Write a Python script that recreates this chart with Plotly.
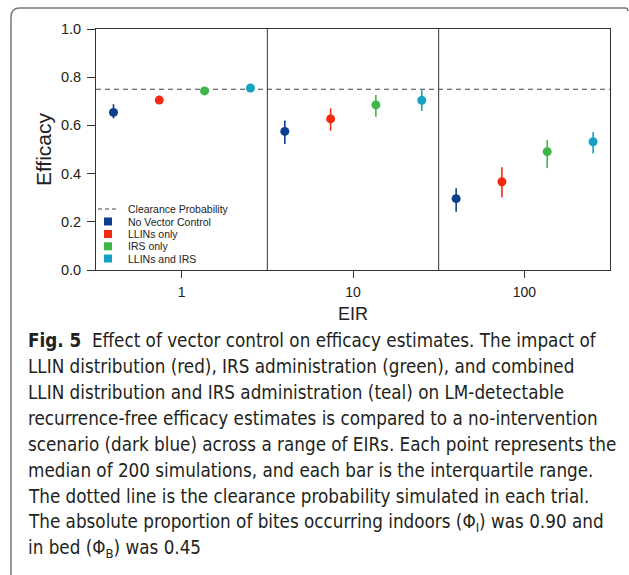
import plotly.graph_objects as go

# ---------------- data ----------------
eir_groups = [1, 10, 100]
series_names = ["No Vector Control", "LLINs only", "IRS only", "LLINs and IRS"]
series_colors = ["#0b3f8c", "#f22a12", "#3db848", "#17a2c3"]

# plotted x positions (dodged within each EIR group on the log axis)
nvc_x = [0.40, 4.0, 40.0]
llin_x = [0.74, 7.4, 74.0]
irs_x = [1.36, 13.6, 136.0]
both_x = [2.52, 25.2, 252.0]

# medians and interquartile ranges
nvc_med = [0.654, 0.575, 0.296]
nvc_q1 = [0.629, 0.523, 0.242]
nvc_q3 = [0.688, 0.620, 0.339]

llin_med = [0.705, 0.627, 0.366]
llin_q1 = [0.692, 0.578, 0.302]
llin_q3 = [0.718, 0.671, 0.426]

irs_med = [0.743, 0.685, 0.491]
irs_q1 = [0.730, 0.636, 0.423]
irs_q3 = [0.757, 0.726, 0.539]

both_med = [0.755, 0.704, 0.532]
both_q1 = [0.745, 0.660, 0.483]
both_q3 = [0.766, 0.747, 0.573]

clearance_prob = 0.75
x_range_vals = [0.3162, 316.2]
divider_vals = [3.162, 31.62]

y_ticks = [0.0, 0.2, 0.4, 0.6, 0.8, 1.0]

caption_lines = [
    "<b>Fig. 5</b>  Effect of vector control on efficacy estimates. The impact of",
    "LLIN distribution (red), IRS administration (green), and combined",
    "LLIN distribution and IRS administration (teal) on LM-detectable",
    "recurrence-free efficacy estimates is compared to a no-intervention",
    "scenario (dark blue) across a range of EIRs. Each point represents the",
    "median of 200 simulations, and each bar is the interquartile range.",
    "The dotted line is the clearance probability simulated in each trial.",
    "The absolute proportion of bites occurring indoors (Φ<sub>I</sub>) was 0.90 and",
    "in bed (Φ<sub>B</sub>) was 0.45",
]

# ---------------- layout helpers ----------------
W, H = 629, 575
L, R, T, B = 96, 610, 29, 270


def px(x):
    return (x - L) / (R - L)


def py(y):
    return (B - y) / (B - T)


AX_FONT = "Liberation Sans, Arial, sans-serif"
CAP_FONT = "Liberation Sans Narrow, Arial Narrow, DejaVu Sans Condensed, sans-serif"

fig = go.Figure()

# clearance probability dashed line
fig.add_trace(go.Scatter(
    x=x_range_vals, y=[clearance_prob, clearance_prob], mode="lines",
    line=dict(color="#444444", width=1.2, dash="5px,4px"),
    showlegend=False, hoverinfo="skip"))

all_series = [
    (nvc_x, nvc_med, nvc_q1, nvc_q3),
    (llin_x, llin_med, llin_q1, llin_q3),
    (irs_x, irs_med, irs_q1, irs_q3),
    (both_x, both_med, both_q1, both_q3),
]
for (xs, med, q1, q3), name, col in zip(all_series, series_names, series_colors):
    fig.add_trace(go.Scatter(
        x=xs, y=med, mode="markers", name=name,
        marker=dict(color=col, size=9, line=dict(width=0)),
        error_y=dict(type="data", symmetric=False,
                     array=[b - m for m, b in zip(med, q3)],
                     arrayminus=[m - a for m, a in zip(med, q1)],
                     width=0, thickness=1.6, color=col),
        showlegend=False))

shapes = []
# panel dividers (data coordinates on the log axis)
for d in divider_vals:
    shapes.append(dict(type="line", xref="x", yref="paper",
                       x0=d, x1=d, y0=0, y1=1,
                       line=dict(color="#333333", width=1)))

# outer rounded border
path = (f"M {px(11)},{py(590)} L {px(11)},{py(17)} "
        f"Q {px(11)},{py(8)} {px(20)},{py(8)} L {px(625)},{py(8)} "
        f"Q {px(628)},{py(8)} {px(628)},{py(11)}")
shapes.append(dict(type="path", xref="paper", yref="paper", path=path,
                   line=dict(color="#7a7a7a", width=1.5)))

# manual legend
leg_rows = [209, 221.5, 234, 246.3, 258.5]
shapes.append(dict(type="line", xref="paper", yref="paper",
                   x0=px(98), x1=px(119), y0=py(leg_rows[0]), y1=py(leg_rows[0]),
                   line=dict(color="#444444", width=1, dash="4px,3px")))
annotations = []
annotations.append(dict(xref="paper", yref="paper", x=px(126), y=py(leg_rows[0]),
                        text="Clearance Probability", showarrow=False,
                        xanchor="left", yanchor="middle",
                        font=dict(family=AX_FONT, size=10.5, color="#222222")))
for yy, name, col in zip(leg_rows[1:], series_names, series_colors):
    shapes.append(dict(type="rect", xref="paper", yref="paper",
                       x0=px(104), x1=px(112), y0=py(yy + 4), y1=py(yy - 4),
                       fillcolor=col, line=dict(width=0)))
    annotations.append(dict(xref="paper", yref="paper", x=px(126), y=py(yy),
                            text=name, showarrow=False, xanchor="left", yanchor="middle",
                            font=dict(family=AX_FONT, size=10.5, color="#222222")))

# caption
for i, line in enumerate(caption_lines):
    annotations.append(dict(xref="paper", yref="paper", x=px(26), y=py(340 + 26.1 * i),
                            text=line, showarrow=False, xanchor="left", yanchor="middle",
                            align="left",
                            font=dict(family=CAP_FONT, size=18.7, color="#231f20")))

fig.update_layout(
    width=W, height=H,
    margin=dict(l=L, r=W - R, t=T, b=H - B),
    paper_bgcolor="white", plot_bgcolor="white",
    showlegend=False,
    shapes=shapes, annotations=annotations,
    xaxis=dict(type="log", range=[-0.5, 2.5], tickvals=eir_groups,
               ticktext=[str(v) for v in eir_groups],
               ticks="outside", ticklen=7, tickwidth=1, tickcolor="#333333",
               showline=True, mirror=True, linecolor="#333333", linewidth=1,
               showgrid=False, zeroline=False, ticklabelstandoff=2,
               tickfont=dict(family=AX_FONT, size=14, color="#222222"),
               title=dict(text="EIR", standoff=8,
                          font=dict(family=AX_FONT, size=18, color="#222222"))),
    yaxis=dict(range=[0, 1], tickvals=y_ticks, tickformat=".1f",
               ticks="outside", ticklen=8, tickwidth=1, tickcolor="#333333",
               showline=True, mirror=True, linecolor="#333333", linewidth=1,
               showgrid=False, zeroline=False, ticklabelstandoff=3,
               tickfont=dict(family=AX_FONT, size=14.5, color="#222222"),
               title=dict(text="Efficacy", standoff=3,
                          font=dict(family=AX_FONT, size=21, color="#222222"))),
)

fig.write_html("out.html")
